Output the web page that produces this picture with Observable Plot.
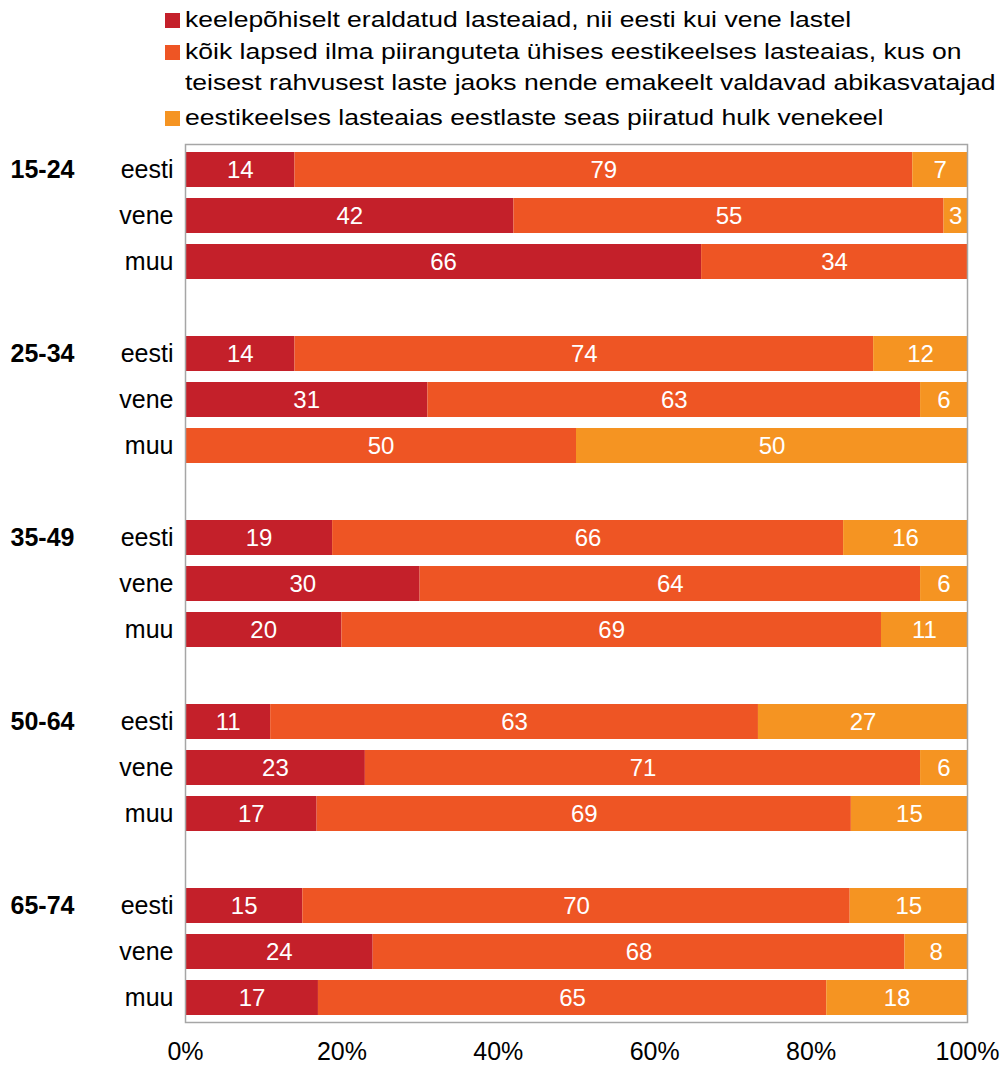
<!DOCTYPE html>
<html>
<head>
<meta charset="utf-8">
<script src="https://cdn.jsdelivr.net/npm/d3@7"></script>
<script src="https://cdn.jsdelivr.net/npm/@observablehq/plot@0.6"></script>
<style>
  html, body { margin: 0; padding: 0; background: #fff; }
  body { width: 1003px; height: 1066px; overflow: hidden; font-family: "Liberation Sans", Arial, sans-serif; }
  #legend { height: 135px; box-sizing: border-box; padding-top: 4px; position: relative; }
  .item { display: flex; align-items: flex-start; margin-left: 165px; font-size: 22px; line-height: 31.5px; color: #000; }
  .sw { width: 15px; height: 15px; flex: none; margin-top: 9px; margin-right: 5px; }
  .txt { transform: scaleX(1.205); transform-origin: 0 0; white-space: nowrap; }
  .item.i3 { margin-top: 3px; }
</style>
</head>
<body>
<div id="legend"></div>
<div id="chart"></div>
<script>
const groups = ["15-24", "25-34", "35-49", "50-64", "65-74"];
const nationalities = ["eesti", "vene", "muu"];
const seriesNames = [
  "keelepõhiselt eraldatud lasteaiad, nii eesti kui vene lastel",
  "kõik lapsed ilma piiranguteta ühises eestikeelses lasteaias, kus on teisest rahvusest laste jaoks nende emakeelt valdavad abikasvatajad",
  "eestikeelses lasteaias eestlaste seas piiratud hulk venekeel"
];
const legendLines = [
  ["keelepõhiselt eraldatud lasteaiad, nii eesti kui vene lastel"],
  ["kõik lapsed ilma piiranguteta ühises eestikeelses lasteaias, kus on", "teisest rahvusest laste jaoks nende emakeelt valdavad abikasvatajad"],
  ["eestikeelses lasteaias eestlaste seas piiratud hulk venekeel"]
];
const colors = ["#c4202a", "#ee5524", "#f59422"];
// values per group, in order eesti, vene, muu
const separated = [14, 42, 66, 14, 31, 0, 19, 30, 20, 11, 23, 17, 15, 24, 17];
const common =    [79, 55, 34, 74, 63, 50, 66, 64, 69, 63, 71, 69, 70, 68, 65];
const limited =   [7, 3, 0, 12, 6, 50, 16, 6, 11, 27, 6, 15, 15, 8, 18];
const xTicks = [0, 0.2, 0.4, 0.6, 0.8, 1];

// legend
const legend = document.getElementById("legend");
legendLines.forEach((lines, i) => {
  const div = document.createElement("div");
  div.className = "item i" + (i + 1);
  const sw = document.createElement("div");
  sw.className = "sw";
  sw.style.background = colors[i];
  const txt = document.createElement("div");
  txt.className = "txt";
  txt.innerHTML = lines.join("<br>");
  div.appendChild(sw);
  div.appendChild(txt);
  legend.appendChild(div);
});

// build band domain including spacer rows
const domain = [];
groups.forEach((g, gi) => {
  nationalities.forEach(n => domain.push(g + "|" + n));
  if (gi < groups.length - 1) domain.push("gap" + gi);
});

const series = [separated, common, limited];
const data = [];
groups.forEach((g, gi) => {
  nationalities.forEach((n, ni) => {
    series.forEach((s, si) => {
      data.push({key: g + "|" + n, group: g, nat: n, series: seriesNames[si], value: s[gi * 3 + ni]});
    });
  });
});
const groupLabels = groups.map(g => ({key: g + "|eesti", label: g}));

const stackOpts = {x: "value", y: "key", z: "series", offset: "normalize", order: null};

const chart = Plot.plot({
  width: 1003,
  height: 931,
  marginLeft: 185,
  marginRight: 36,
  marginTop: 9,
  marginBottom: 44,
  style: {fontFamily: "Liberation Sans, Arial, sans-serif", fontSize: "24px", color: "#000"},
  x: {domain: [0, 1], label: null},
  y: {domain, paddingInner: 0.24, paddingOuter: 0.12, label: null},
  color: {domain: seriesNames, range: colors},
  marks: [
    Plot.barX(data, Plot.stackX({...stackOpts, fill: "series"})),
    Plot.text(data, Plot.stackX({...stackOpts, text: d => d.value > 0 ? String(d.value) : "", fill: "white", fontSize: 24})),
    Plot.axisX({ticks: xTicks, tickFormat: d => Math.round(d * 100) + "%", tickSize: 0, tickPadding: 20, fontSize: 25, fill: "#000"}),
    Plot.axisY({tickSize: 0, tickPadding: 12, fontSize: 25, fill: "#000",
      tickFormat: d => d.startsWith("gap") ? "" : d.split("|")[1]}),
    Plot.text(groupLabels, {y: "key", text: "label", frameAnchor: "left", dx: -175, textAnchor: "start", fontWeight: "bold", fontSize: 25, fill: "#000"}),
    Plot.frame({stroke: "#a6a6a6", strokeWidth: 1.5})
  ]
});
document.getElementById("chart").appendChild(chart);
</script>
</body>
</html>
